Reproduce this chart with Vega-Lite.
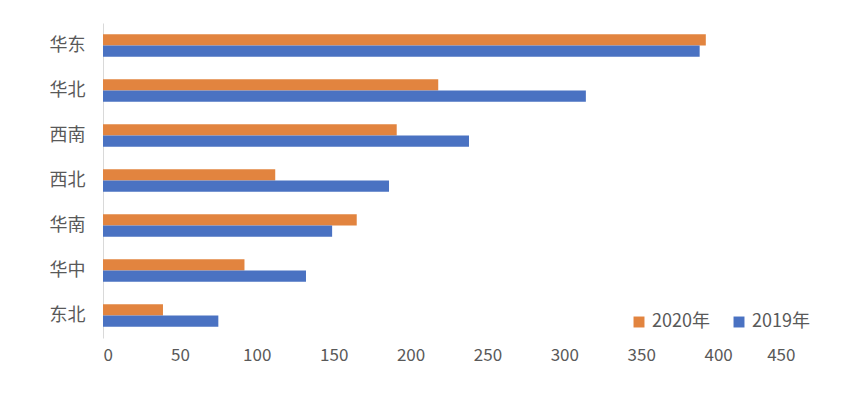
{
  "$schema": "https://vega.github.io/schema/vega-lite/v6.json",
  "width": 692,
  "height": 315,
  "autosize": {"type": "none"},
  "padding": {"left": 103, "top": 23, "right": 57, "bottom": 58},
  "background": "white",
  "config": {
    "view": {"stroke": null},
    "font": "Noto Sans CJK SC",
    "axis": {"labelFont": "Noto Sans CJK SC", "labelColor": "#595959", "labelFontSize": 17, "grid": false, "ticks": false},
    "legend": {"labelFont": "Noto Sans CJK SC", "labelColor": "#595959", "labelFontSize": 18}
  },
  "data": {
    "values": [
      {"region": "华东", "year": "2020年", "value": 392},
      {"region": "华东", "year": "2019年", "value": 388},
      {"region": "华北", "year": "2020年", "value": 218},
      {"region": "华北", "year": "2019年", "value": 314},
      {"region": "西南", "year": "2020年", "value": 191},
      {"region": "西南", "year": "2019年", "value": 238},
      {"region": "西北", "year": "2020年", "value": 112},
      {"region": "西北", "year": "2019年", "value": 186},
      {"region": "华南", "year": "2020年", "value": 165},
      {"region": "华南", "year": "2019年", "value": 149},
      {"region": "华中", "year": "2020年", "value": 92},
      {"region": "华中", "year": "2019年", "value": 132},
      {"region": "东北", "year": "2020年", "value": 39},
      {"region": "东北", "year": "2019年", "value": 75}
    ]
  },
  "mark": {"type": "bar"},
  "encoding": {
    "y": {
      "field": "region", "type": "nominal",
      "sort": ["华东", "华北", "西南", "西北", "华南", "华中", "东北"],
      "scale": {"paddingInner": 0.5, "paddingOuter": 0.25},
      "axis": {"title": null, "domain": true, "domainColor": "#d9d9d9", "domainWidth": 1, "labelPadding": 18, "labelAngle": 0, "labelFontSize": 18}
    },
    "yOffset": {"field": "year", "type": "nominal", "sort": ["2020年", "2019年"]},
    "x": {
      "field": "value", "type": "quantitative",
      "scale": {"domain": [0, 450], "nice": false},
      "axis": {"title": null, "values": [0, 50, 100, 150, 200, 250, 300, 350, 400, 450], "domain": false, "labelPadding": 9}
    },
    "color": {
      "field": "year", "type": "nominal",
      "scale": {"domain": ["2020年", "2019年"], "range": ["#E2843F", "#4A72C2"]},
      "legend": {"title": null, "orient": "none", "legendX": 527, "legendY": 290, "direction": "horizontal", "symbolType": "square", "symbolSize": 120, "symbolStrokeWidth": 0, "columnPadding": 20, "labelOffset": 4}
    }
  }
}
